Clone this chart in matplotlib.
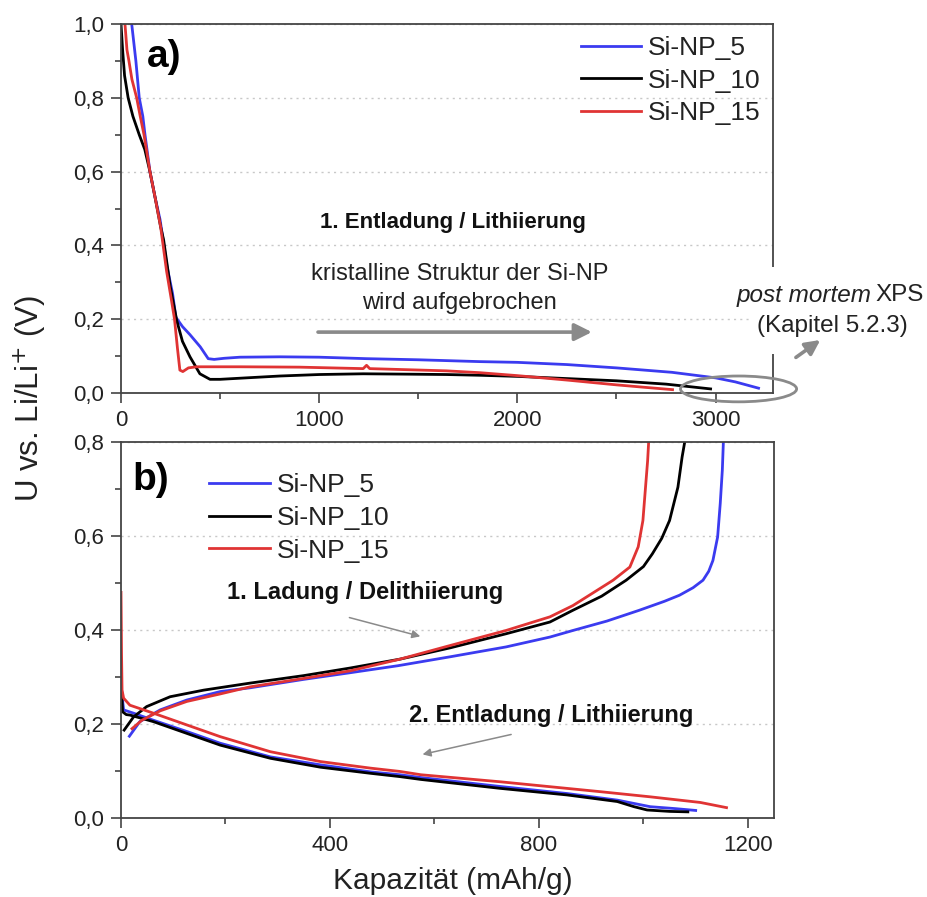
import matplotlib
matplotlib.use("Agg")
import matplotlib.pyplot as plt
from matplotlib.patches import Ellipse, Rectangle

plt.rcParams['font.family'] = ['Liberation Sans', 'DejaVu Sans']

labels = ['Si-NP_5', 'Si-NP_10', 'Si-NP_15']
colors = ['#3b3bf0', '#000000', '#e03434']

# ---- a) 1. Entladung (first discharge) ----
dis1_x_5 = [54, 75, 92, 110, 121, 146, 172, 197, 232, 260, 277, 310, 348, 400, 440, 470,
            520, 600, 802, 1000, 1239, 1500, 1810, 2000, 2250, 2500, 2780, 3000, 3100, 3217]
dis1_y_5 = [1.0, 0.9, 0.8, 0.75, 0.7, 0.6, 0.53, 0.47, 0.343, 0.27, 0.205, 0.18, 0.158, 0.125,
            0.093, 0.091, 0.094, 0.097, 0.098, 0.097, 0.093, 0.09, 0.085, 0.083, 0.077, 0.068,
            0.056, 0.041, 0.03, 0.013]
dis1_x_10 = [0, 8, 18, 36, 60, 92, 120, 146, 172, 200, 215, 248, 281, 310, 348, 398, 449, 500,
             600, 802, 1000, 1222, 1450, 1642, 1810, 2000, 2250, 2500, 2750, 2975]
dis1_y_10 = [1.0, 0.93, 0.86, 0.8, 0.75, 0.7, 0.66, 0.6, 0.53, 0.45, 0.415, 0.29, 0.197, 0.14,
             0.098, 0.052, 0.037, 0.037, 0.04, 0.046, 0.05, 0.052, 0.051, 0.05, 0.048, 0.045,
             0.039, 0.033, 0.024, 0.011]
dis1_x_15 = [20, 30, 40, 55, 79, 97, 116, 146, 172, 200, 230, 255, 270, 285, 297, 312, 340, 381,
             600, 900, 1222, 1239, 1255, 1450, 1642, 1810, 2000, 2250, 2500, 2650, 2783]
dis1_y_15 = [1.0, 0.93, 0.9, 0.85, 0.8, 0.75, 0.7, 0.6, 0.53, 0.45, 0.33, 0.25, 0.2, 0.12, 0.062,
             0.058, 0.068, 0.071, 0.071, 0.07, 0.066, 0.075, 0.066, 0.063, 0.06, 0.055, 0.047,
             0.035, 0.022, 0.015, 0.009]

# ---- b) 1. Ladung (first charge) ----
chg_x_5 = [16, 36, 75, 126, 190, 247, 350, 438, 530, 630, 737, 821, 865, 930, 992, 1040, 1069,
           1095, 1114, 1125, 1133, 1142, 1147, 1151, 1153]
chg_y_5 = [0.174, 0.205, 0.23, 0.251, 0.269, 0.277, 0.295, 0.309, 0.324, 0.343, 0.364, 0.385,
           0.399, 0.419, 0.442, 0.461, 0.474, 0.49, 0.506, 0.525, 0.548, 0.598, 0.669, 0.74, 0.8]
chg_x_10 = [6, 24, 49, 94, 158, 247, 350, 438, 534, 630, 737, 821, 865, 920, 967, 1000, 1017,
            1035, 1050, 1066, 1074, 1079]
chg_y_10 = [0.187, 0.215, 0.237, 0.258, 0.272, 0.287, 0.303, 0.319, 0.338, 0.362, 0.392, 0.417,
            0.442, 0.472, 0.506, 0.535, 0.562, 0.595, 0.633, 0.704, 0.768, 0.8]
chg_x_15 = [21, 40, 75, 126, 190, 247, 350, 438, 534, 630, 737, 821, 865, 942, 974, 990, 999,
            1004, 1008, 1010]
chg_y_15 = [0.19, 0.208, 0.228, 0.248, 0.264, 0.279, 0.297, 0.313, 0.338, 0.367, 0.399, 0.428,
            0.452, 0.506, 0.534, 0.577, 0.633, 0.704, 0.76, 0.8]

# ---- b) 2. Entladung (second discharge) ----
dis2_x_5 = [0, 3, 5, 24, 62, 126, 190, 286, 382, 478, 534, 574, 726, 854, 950, 1013, 1060, 1100]
dis2_y_5 = [0.286, 0.25, 0.23, 0.223, 0.208, 0.184, 0.159, 0.13, 0.113, 0.098, 0.092, 0.086,
            0.067, 0.052, 0.038, 0.024, 0.02, 0.016]
dis2_x_10 = [0, 2, 3, 10, 17, 62, 126, 190, 286, 382, 478, 534, 574, 726, 854, 950, 982, 1007,
             1050, 1085]
dis2_y_10 = [0.293, 0.25, 0.226, 0.22, 0.219, 0.205, 0.18, 0.155, 0.127, 0.108, 0.095, 0.088,
             0.082, 0.063, 0.049, 0.035, 0.024, 0.017, 0.014, 0.013]
dis2_x_15 = [0, 1, 2, 5, 17, 62, 126, 190, 286, 382, 478, 534, 574, 726, 917, 1013, 1109, 1159]
dis2_y_15 = [0.48, 0.35, 0.272, 0.255, 0.24, 0.223, 0.198, 0.173, 0.141, 0.12, 0.106, 0.099,
             0.092, 0.077, 0.056, 0.045, 0.033, 0.022]

top_xticks = [0, 1000, 2000, 3000]
top_yticks = [0.0, 0.2, 0.4, 0.6, 0.8, 1.0]
top_yticklabels = ['0,0', '0,2', '0,4', '0,6', '0,8', '1,0']
bot_xticks = [0, 400, 800, 1200]
bot_yticks = [0.0, 0.2, 0.4, 0.6, 0.8]
bot_yticklabels = ['0,0', '0,2', '0,4', '0,6', '0,8']

fig = plt.figure(figsize=(9.28, 8.97), dpi=100)
ax1 = fig.add_axes([0.1304, 0.5619, 0.7026, 0.4113])
ax2 = fig.add_axes([0.1304, 0.0881, 0.7037, 0.4191])

spine_col = '#444444'
for ax in (ax1, ax2):
    for s in ax.spines.values():
        s.set_color(spine_col)
        s.set_linewidth(1.3)
    ax.tick_params(which='both', direction='out', color=spine_col, width=1.2,
                   labelsize=16, labelcolor='#222222', top=False, right=False)
    ax.tick_params(which='major', length=7, pad=5)
    ax.tick_params(which='minor', length=4)
    ax.yaxis.grid(True, which='major', linestyle=(0, (1.5, 3)), color='#c8c8c8', linewidth=1.0)
    ax.set_axisbelow(True)

# top panel
xs1 = [dis1_x_5, dis1_x_10, dis1_x_15]
ys1 = [dis1_y_5, dis1_y_10, dis1_y_15]
for x, y, c, lab in zip(xs1, ys1, colors, labels):
    ax1.plot(x, y, color=c, lw=2.0, label=lab)
ax1.set_xlim(0, 3290)
ax1.set_ylim(0, 1.0)
ax1.set_xticks(top_xticks)
ax1.set_xticks([500, 1500, 2500], minor=True)
ax1.set_yticks(top_yticks)
ax1.set_yticklabels(top_yticklabels)
ax1.set_yticks([0.1, 0.3, 0.5, 0.7, 0.9], minor=True)

leg1 = ax1.legend(loc='upper left', bbox_to_anchor=(0.705, 0.968), frameon=False, fontsize=19,
                  handlelength=2.3, handletextpad=0.25, labelspacing=0.33, borderpad=0,
                  borderaxespad=0)
for t in leg1.get_texts():
    t.set_color('#222222')

ax1.text(0.04, 0.91, 'a)', transform=ax1.transAxes, fontsize=28, fontweight='bold',
         va='center', ha='left')
ax1.text(1677, 0.461, '1. Entladung / Lithiierung', fontsize=16, fontweight='bold',
         ha='center', va='center', color='#111111')
ax1.text(1707, 0.283, 'kristalline Struktur der Si-NP\nwird aufgebrochen', fontsize=17,
         ha='center', va='center', color='#222222', linespacing=1.45)
ax1.annotate('', xy=(2390, 0.165), xytext=(980, 0.165),
             arrowprops=dict(arrowstyle='-|>', color='#8a8a8a', lw=2.6, mutation_scale=26))

# ellipse around the end of discharge and the pointer to XPS
ell = Ellipse((3116, 0.011), 586, 0.07, fill=False, edgecolor='#8a8a8a', lw=2.0,
              clip_on=False, zorder=5)
ax1.add_patch(ell)
ax1.annotate('', xy=(3540, 0.148), xytext=(3394, 0.092), annotation_clip=False,
             arrowprops=dict(arrowstyle='-|>', color='#8a8a8a', lw=2.6, mutation_scale=22))

# white patch that breaks the right spine behind the XPS note
fig.patches.append(Rectangle((752 / 928, 1 - 354 / 897), 40 / 928, 87 / 897,
                             transform=fig.transFigure, facecolor='white', edgecolor='none',
                             zorder=2))
fig.text(872 / 928, 1 - 295 / 897, 'post mortem', fontsize=17.5, style='italic',
         ha='right', va='center', color='#222222', zorder=3)
fig.text(875 / 928, 1 - 295 / 897, 'XPS', fontsize=17.5, ha='left', va='center',
         color='#222222', zorder=3)
fig.text(832 / 928, 1 - 326 / 897, '(Kapitel 5.2.3)', fontsize=17.5, ha='center',
         va='center', color='#222222', zorder=3)

# bottom panel
chg = [(chg_x_5, chg_y_5), (chg_x_10, chg_y_10), (chg_x_15, chg_y_15)]
dis2 = [(dis2_x_5, dis2_y_5), (dis2_x_10, dis2_y_10), (dis2_x_15, dis2_y_15)]
for (cx, cy), (dx, dy), c, lab in zip(chg, dis2, colors, labels):
    ax2.plot(cx, cy, color=c, lw=2.0, label=lab)
    ax2.plot(dx, dy, color=c, lw=2.0)
ax2.set_xlim(0, 1250)
ax2.set_ylim(0, 0.8)
ax2.set_xticks(bot_xticks)
ax2.set_xticks([200, 600, 1000], minor=True)
ax2.set_yticks(bot_yticks)
ax2.set_yticklabels(bot_yticklabels)
ax2.set_yticks([0.1, 0.3, 0.5, 0.7], minor=True)

leg2 = ax2.legend(loc='upper left', bbox_to_anchor=(0.135, 0.917), frameon=False, fontsize=19,
                  handlelength=2.3, handletextpad=0.25, labelspacing=0.33, borderpad=0,
                  borderaxespad=0)
for t in leg2.get_texts():
    t.set_color('#222222')

ax2.text(0.017, 0.90, 'b)', transform=ax2.transAxes, fontsize=28, fontweight='bold',
         va='center', ha='left')
ax2.text(467, 0.479, '1. Ladung / Delithiierung', fontsize=17, fontweight='bold',
         ha='center', va='center', color='#111111')
ax2.annotate('', xy=(578, 0.385), xytext=(432, 0.428),
             arrowprops=dict(arrowstyle='-|>', color='#8a8a8a', lw=1.1, mutation_scale=12))
ax2.text(823, 0.219, '2. Entladung / Lithiierung', fontsize=17, fontweight='bold',
         ha='center', va='center', color='#111111')
ax2.annotate('', xy=(572, 0.134), xytext=(752, 0.179),
             arrowprops=dict(arrowstyle='-|>', color='#8a8a8a', lw=1.1, mutation_scale=12))

fig.text(0.032, 0.556, 'U vs. Li/Li$^{+}$ (V)', rotation=90, fontsize=22.5, ha='center',
         va='center', color='#222222')
fig.text(0.488, 0.018, 'Kapazität (mAh/g)', fontsize=21.5, ha='center', va='center',
         color='#222222')

fig.savefig('out.png', dpi=100)
